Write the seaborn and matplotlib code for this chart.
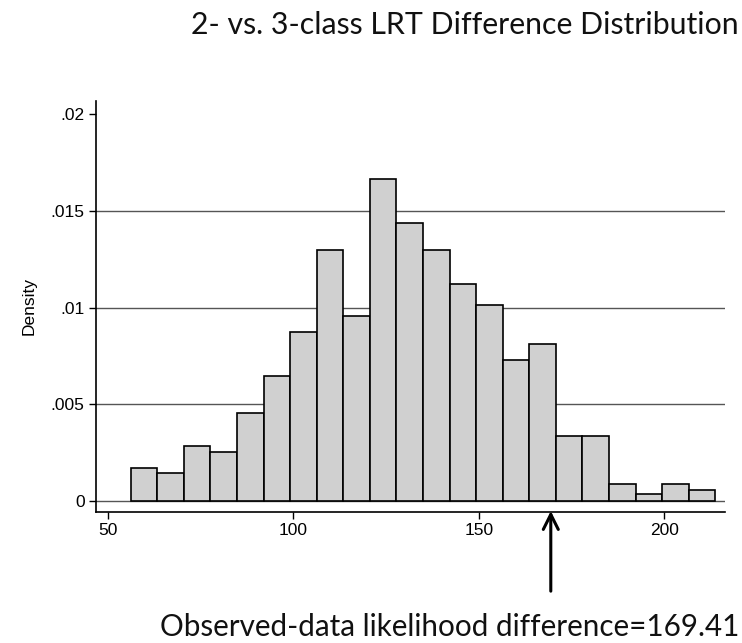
import numpy as np
import pandas as pd
import matplotlib
matplotlib.use("Agg")
import matplotlib.pyplot as plt
import seaborn as sns

# Histogram of bootstrapped 2- vs. 3-class LRT differences (density per bin)
bin_start = 56.2
bin_width = 7.16
density = [0.00169, 0.00142, 0.00280, 0.00252, 0.00452, 0.00646, 0.00875,
           0.01298, 0.00958, 0.01666, 0.01436, 0.01298, 0.01124, 0.01013,
           0.00728, 0.00813, 0.00335, 0.00335, 0.00088, 0.00033, 0.00088,
           0.00057]
observed = 169.41

x_ticks = [50, 100, 150, 200]
y_ticks = [0, 0.005, 0.01, 0.015, 0.02]
y_tick_labels = ["0", ".005", ".01", ".015", ".02"]
grid_levels = [0, 0.005, 0.01, 0.015]

title = "2- vs. 3-class LRT Difference Distribution"
note = f"Observed-data likelihood difference={observed:.2f}"

n_bins = len(density)
df = pd.DataFrame({
    "lrt": [bin_start + bin_width * (i + 0.5) for i in range(n_bins)],
    "density": density,
})

sns.set_theme(style="ticks")
plt.rcParams["font.family"] = ["Liberation Sans", "DejaVu Sans"]

fig = plt.figure(figsize=(7.42, 6.43), dpi=100)
ax = fig.add_axes([0.129, 0.2037, 0.848, 0.6397])

for g in grid_levels:
    ax.axhline(g, color="#555555", lw=1.0, zorder=0)

sns.histplot(data=df, x="lrt", weights="density", bins=n_bins,
             binrange=(bin_start, bin_start + bin_width * n_bins),
             stat="count", color="#d0d0d0", alpha=1.0,
             edgecolor="black", linewidth=1.2, ax=ax, zorder=2)

ax.set_xlim(46.77, 216.34)
ax.set_ylim(-0.000596, 0.020715)
ax.set_xticks(x_ticks)
ax.set_xticklabels([str(t) for t in x_ticks])
ax.set_yticks(y_ticks)
ax.set_yticklabels(y_tick_labels)
ax.tick_params(axis="both", length=5, width=1.0, color="black",
               labelsize=12.5, labelcolor="black", pad=3)
ax.set_xlabel("")
ax.set_ylabel("Density", fontsize=12.5, color="black", labelpad=10)
ax.grid(False)
for side in ["top", "right"]:
    ax.spines[side].set_visible(False)
for side in ["left", "bottom"]:
    ax.spines[side].set_color("black")
    ax.spines[side].set_linewidth(1.2)

# Arrow marking the observed statistic
ax.annotate("", xy=(observed, -0.0004), xytext=(observed, -0.00484),
            xycoords="data", textcoords="data", annotation_clip=False,
            arrowprops=dict(arrowstyle="->,head_length=0.9,head_width=0.45",
                            color="black", lw=2.2))

fig.text(0.995, 1 - 34 / 643, title, ha="right", va="baseline",
         fontsize=21.8, family=["Lato", "DejaVu Sans"], color="#111111")
fig.text(0.997, 1 - 636 / 643, note, ha="right", va="baseline",
         fontsize=21.3, family=["Lato", "DejaVu Sans"], color="#111111")

fig.savefig("out.png", dpi=100)
